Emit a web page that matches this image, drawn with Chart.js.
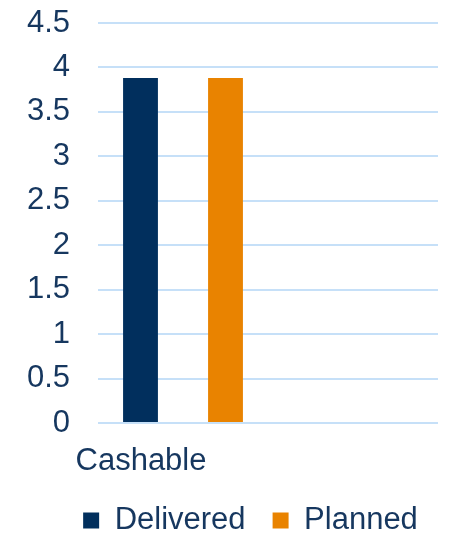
<!DOCTYPE html>
<html>
<head>
<meta charset="utf-8">
<script src="https://cdn.jsdelivr.net/npm/chart.js@4"></script>
<style>
  html, body { margin: 0; padding: 0; background: #ffffff; }
  #wrap { width: 449px; height: 534px; }
</style>
</head>
<body>
<div id="wrap"><canvas id="chart"></canvas></div>
<script>
'use strict';

// chart data
const categories = ['Cashable', ''];
const delivered = [3.88, null];
const planned = [3.88, null];
const yTicks = [0, 0.5, 1, 1.5, 2, 2.5, 3, 3.5, 4, 4.5];

const textColour = '#16375F';
const gridColour = '#C6E0F8';
const fontFamily = "'Liberation Sans', Arial, sans-serif";

Chart.defaults.font.family = fontFamily;
Chart.defaults.font.size = 31;
Chart.defaults.color = textColour;

// the legend sits a little right of centre in the original
const legendShift = {
    id: 'legendShift',
    afterLayout(chart) {
        if (chart.legend) {
            chart.legend.left += 41;
            chart.legend.right += 22;
        }
    }
};

new Chart(document.getElementById('chart').getContext('2d'), {
    type: 'bar',
    data: {
        labels: categories,
        datasets: [
            { label: 'Delivered', data: delivered, backgroundColor: '#012F5D' },
            { label: 'Planned', data: planned, backgroundColor: '#E98300' }
        ]
    },
    options: {
        responsive: true,
        maintainAspectRatio: false,
        animation: false,
        events: [],
        categoryPercentage: 1.0,
        barPercentage: 0.41,
        layout: { padding: { left: 0, right: 11, top: 23, bottom: -12 } },
        plugins: {
            tooltip: { enabled: false },
            legend: {
                position: 'bottom',
                labels: {
                    boxWidth: 16,
                    boxHeight: 16,
                    padding: 27,
                    color: textColour,
                    font: { size: 31 }
                }
            }
        },
        scales: {
            x: {
                afterFit: (scale) => { scale.height = 55; },
                grid: { display: false, drawTicks: false },
                border: { display: false },
                ticks: { padding: 20, labelOffset: -42, maxRotation: 0, autoSkip: false }
            },
            y: {
                min: 0,
                max: 4.5,
                afterBuildTicks: (scale) => { scale.ticks = yTicks.map(v => ({ value: v })); },
                afterFit: (scale) => {
                    scale.width = 98;
                    scale.paddingTop = 0;
                    scale.paddingBottom = 0;
                },
                grid: { color: gridColour, lineWidth: 2, drawTicks: false },
                border: { display: false },
                ticks: { padding: 28, autoSkip: false, callback: (v) => String(v) }
            }
        }
    },
    plugins: [legendShift]
});
</script>
</body>
</html>
